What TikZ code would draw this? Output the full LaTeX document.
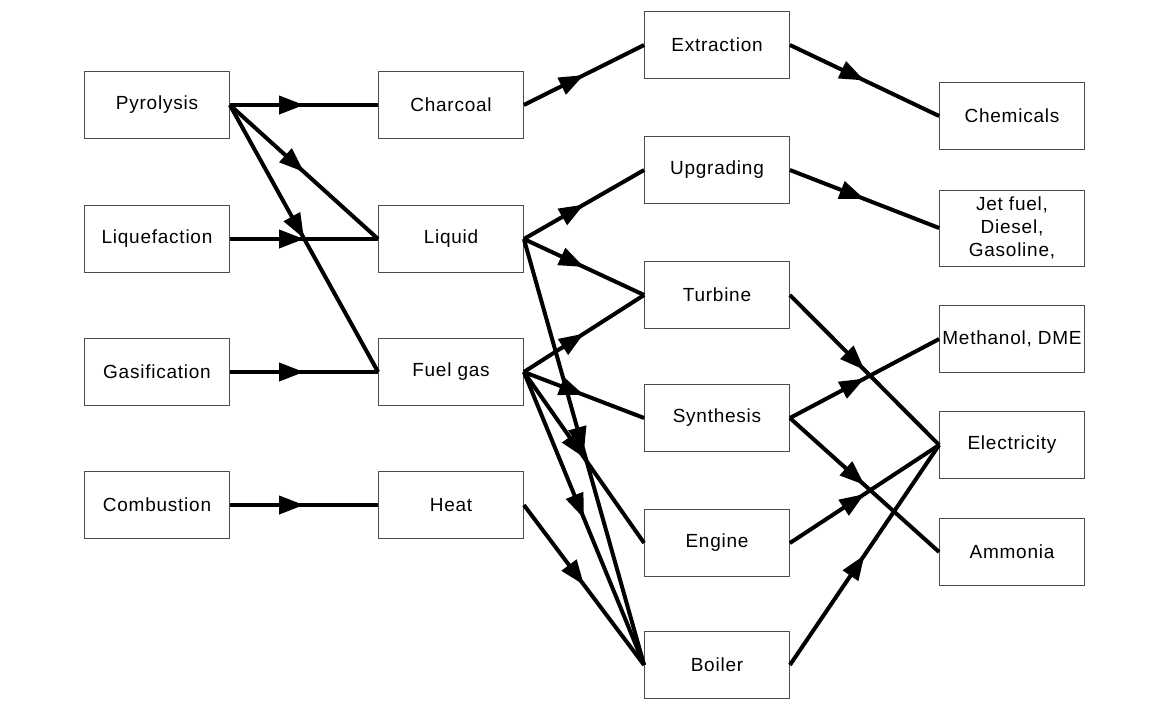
\documentclass[tikz,border=0pt]{standalone}
\usepackage{fontspec}
\setmainfont[LetterSpace=4]{Liberation Sans}
\usetikzlibrary{arrows.meta,decorations.markings}

\begin{document}
\begin{tikzpicture} [
      x = 1pt, y = -1pt,
      every node/.style = { draw = black!70, line width = 0.8pt, rectangle, inner sep = 0,
        minimum width = 145pt, minimum height = 67pt, align = center,
        font = \fontsize{19}{23}\selectfont },
      flow/.style = { line width = 4pt, postaction = {decorate},
        decoration = { markings, mark = at position 0.5 with {\arrow{Triangle[length=25pt,width=18pt]}} } }
      ]
      \useasboundingbox (0,0) rectangle (1159,702);

      % processes
      \node (pyro) at (157,105) {Pyrolysis};
      \node (liqf) at (157,239) {Liquefaction};
      \node (gasf) at (157,372) {Gasification};
      \node (comb) at (157,505) {Combustion};

      % intermediates
      \node (charcoal) at (451,105) {Charcoal};
      \node (liquid) at (451,239) {Liquid};
      \node (fuelgas) at (451,372) {Fuel gas};
      \node (heat) at (451,505) {Heat};

      % conversion
      \node (extract) at (717,45) {Extraction};
      \node (upgrade) at (717,170) {Upgrading};
      \node (turbine) at (717,295) {Turbine};
      \node (synth) at (717,418) {Synthesis};
      \node (engine) at (717,543) {Engine};
      \node (boiler) at (717,665) {Boiler};

      % products
      \node (chem) at (1012,116) {Chemicals};
      \node [minimum height = 76pt] (jetfuel) at (1012,228) {Jet fuel,\\Diesel,\\Gasoline,};
      \node (methanol) at (1012,339) {Methanol, DME};
      \node (elec) at (1012,445) {Electricity};
      \node (ammonia) at (1012,552) {Ammonia};

      \draw [flow] (pyro.east) -- (charcoal.west);
      \draw [flow] (pyro.east) -- (liquid.west);
      \draw [flow] (pyro.east) -- (fuelgas.west);
      \draw [flow] (liqf.east) -- (liquid.west);
      \draw [flow] (gasf.east) -- (fuelgas.west);
      \draw [flow] (comb.east) -- (heat.west);

      \draw [flow] (charcoal.east) -- (extract.west);
      \draw [flow] (liquid.east) -- (upgrade.west);
      \draw [flow] (liquid.east) -- (turbine.west);
      \draw [flow] (liquid.east) -- (boiler.west);
      \draw [flow] (fuelgas.east) -- (turbine.west);
      \draw [flow] (fuelgas.east) -- (synth.west);
      \draw [flow] (fuelgas.east) -- (engine.west);
      \draw [flow] (fuelgas.east) -- (boiler.west);
      \draw [flow] (heat.east) -- (boiler.west);

      \draw [flow] (extract.east) -- (chem.west);
      \draw [flow] (upgrade.east) -- (jetfuel.west);
      \draw [flow] (turbine.east) -- (elec.west);
      \draw [flow] (synth.east) -- (methanol.west);
      \draw [flow] (synth.east) -- (ammonia.west);
      \draw [flow] (engine.east) -- (elec.west);
      \draw [flow] (boiler.east) -- (elec.west);
    \end{tikzpicture}
\end{document}
